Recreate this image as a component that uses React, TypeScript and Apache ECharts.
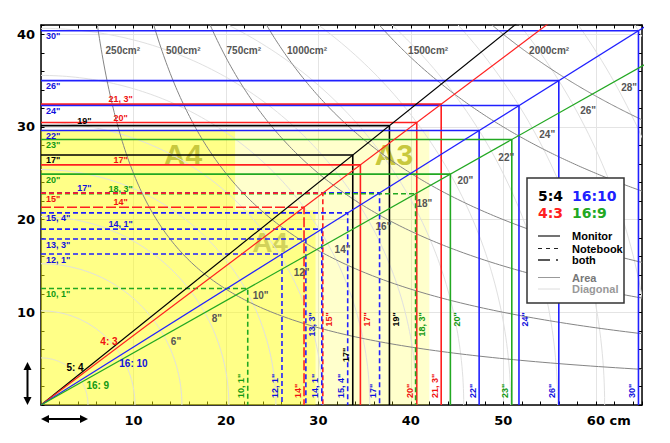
import { useEffect, useRef } from 'react';
import * as echarts from 'echarts';

const X_MAX = 65;
const Y_MAX = 41;
const CM_PER_INCH = 2.54;

// aspect ratios
const aspectNames = ['5:4', '4:3', '16:10', '16:9'];
const aspectW = [5, 4, 16, 16];
const aspectH = [4, 3, 10, 9];
const aspectLineColors = ['#000000', '#ff2020', '#2020ff', '#22a822'];
const aspectTextColors = ['#000000', '#f01010', '#1010dd', '#129912'];
const aspectLabelText = ['5: 4', '4: 3', '16: 10', '16: 9'];
const aspectLabelPos = [[3.68, 4.1], [7.35, 6.9], [10.0, 4.53], [6.14, 2.08]];

// screens (diagonal in inch)
const screenDiagonals = [30, 26, 21.3, 24, 19, 20, 22, 23, 17, 17, 20, 17, 18.3, 15, 14, 15.4, 14.1, 13.3, 12.1, 10.1];
const screenAspects = ['16:10', '16:10', '4:3', '16:10', '5:4', '4:3', '16:10', '16:9', '5:4', '4:3', '16:9', '16:10', '16:9', '4:3', '4:3', '16:10', '16:10', '16:10', '16:10', '16:9'];
const screenKinds = ['monitor', 'monitor', 'monitor', 'monitor', 'monitor', 'monitor', 'monitor', 'monitor', 'monitor', 'monitor', 'monitor', 'notebook', 'notebook', 'notebook', 'both', 'notebook', 'notebook', 'notebook', 'notebook', 'notebook'];
// label placement on the height line (L: at axis below line, M / R: above line)
const leftLabelPlace = ['L', 'L', 'R', 'L', 'M', 'R', 'L', 'L', 'L', 'R', 'L', 'M', 'R', 'L', 'R', 'L', 'R', 'L', 'L', 'L'];
// label placement on the width line
const bottomLabelPlace = ['low', 'low', 'low', 'up', 'up', 'low', 'low', 'low', 'mid', 'up', 'up', 'low', 'up', 'up', 'low', 'low', 'low', 'up', 'low', 'low'];

// paper formats
const paperNames = ['A3', 'A4', 'A4'];
const paperW = [42, 21, 29.7];
const paperH = [29.7, 29.7, 21];
const paperLabelPos = [[38.18, 27.08], [15.36, 27.08], [24.77, 17.48]];

// area curves (cm²) and diagonal arcs (inch)
const areaValues = [250, 500, 750, 1000, 1500, 2000];
const areaLabelY = 38.2;
const diagonalArcs = [2, 4, 6, 8, 10, 12, 14, 16, 18, 20, 22, 24, 26, 28, 30];
const diagonalLabels = [6, 8, 10, 12, 14, 16, 18, 20, 22, 24, 26, 28];

const FONT = '"Liberation Sans", Arial, sans-serif';

function aIdx(name: string) {
  return aspectNames.indexOf(name);
}
function rectSize(i: number): [number, number] {
  const a = aIdx(screenAspects[i]);
  const d = screenDiagonals[i] * CM_PER_INCH;
  const hyp = Math.hypot(aspectW[a], aspectH[a]);
  return [(d * aspectW[a]) / hyp, (d * aspectH[a]) / hyp];
}
function fmtInch(d: number) {
  return String(d).replace('.', ', ') + '"';
}
function dashOf(kind: string): any {
  if (kind === 'notebook') return [5, 3];
  if (kind === 'both') return [10, 3];
  return 'solid';
}

export default function App() {
  const ref = useRef<HTMLDivElement>(null);
  useEffect(() => {
    if (!ref.current) return;
    const chart = echarts.init(ref.current, undefined, { renderer: 'svg' });

    const tickAxis = (pos: string, max: number, labels: boolean, dim: 'x' | 'y') => ({
      type: 'value',
      min: 0,
      max,
      interval: 2,
      position: pos,
      axisLine: { show: true, onZero: false, lineStyle: { color: '#000', width: 1.5 } },
      axisTick: { show: true, inside: true, length: 3.5, lineStyle: { color: '#000', width: 1 } },
      splitLine: { show: false },
      axisLabel: labels
        ? {
            show: true,
            margin: dim === 'x' ? 9 : 6,
            color: '#000',
            fontFamily: 'DejaVu Sans',
            fontWeight: 'bold',
            fontSize: 13,
            formatter: (v: number) => {
              const r = Math.round(v / 10) * 10;
              if (Math.abs(v - r) > 1e-6 || r === 0 || v > max - 0.5) return '';
              if (dim === 'x' && r === 60) return '{p|}60 cm';
              return String(r);
            },
            rich: { p: { width: 26, fontSize: 13 } },
          }
        : { show: false },
    });
    const gridAxis = (pos: string, max: number) => ({
      type: 'value',
      min: 0,
      max,
      interval: 10,
      position: pos,
      axisLine: { show: false, onZero: false },
      axisTick: { show: false },
      axisLabel: { show: false },
      splitLine: { show: true, lineStyle: { color: '#e4e4e4', width: 1 } },
    });

    const series: any[] = [];

    // paper areas
    series.push({
      type: 'custom',
      z: 1,
      silent: true,
      clip: true,
      data: [[0, 0]],
      renderItem: (_p: any, api: any) => {
        const a3 = 0, pt = 1, ls = 2;
        const union = [
          [0, 0], [paperW[ls], 0], [paperW[ls], paperH[ls]], [paperW[pt], paperH[ls]],
          [paperW[pt], paperH[pt]], [0, paperH[pt]],
        ];
        const rest = [
          [paperW[ls], 0], [paperW[a3], 0], [paperW[a3], paperH[a3]], [0, paperH[a3]],
          [0, paperH[pt]], [paperW[pt], paperH[pt]], [paperW[pt], paperH[ls]], [paperW[ls], paperH[ls]],
        ];
        return {
          type: 'group',
          children: [
            { type: 'polygon', shape: { points: rest.map((p) => api.coord(p)) }, style: { fill: 'rgba(255,255,0,0.2)' } },
            { type: 'polygon', shape: { points: union.map((p) => api.coord(p)) }, style: { fill: 'rgba(255,255,0,0.47)' } },
          ],
        };
      },
    });

    // paper labels
    series.push({
      type: 'custom',
      z: 1,
      silent: true,
      clip: false,
      data: paperLabelPos.map((p) => [p[0], p[1]]),
      renderItem: (p: any, api: any) => {
        const c = api.coord([api.value(0), api.value(1)]);
        return {
          type: 'text',
          x: c[0],
          y: c[1],
          style: {
            text: paperNames[p.dataIndex],
            fill: p.dataIndex === 2 ? '#d2d25a' : '#c8c83e',
            fontSize: p.dataIndex === 2 ? 28 : 30,
            fontWeight: 'bold',
            fontFamily: FONT,
            align: 'center',
            verticalAlign: 'middle',
          },
        };
      },
    });

    // diagonal arcs
    series.push({
      type: 'custom',
      z: 2,
      silent: true,
      clip: true,
      data: diagonalArcs.map((d) => [0, 0, d]),
      renderItem: (_p: any, api: any) => {
        const r = api.value(2) * CM_PER_INCH;
        const pts = [];
        for (let i = 0; i <= 120; i++) {
          const a = (i / 120) * (Math.PI / 2);
          pts.push(api.coord([r * Math.cos(a), r * Math.sin(a)]));
        }
        return { type: 'polyline', shape: { points: pts }, style: { stroke: '#e0e0e0', lineWidth: 1, fill: null } };
      },
    });

    // area hyperbolas
    series.push({
      type: 'custom',
      z: 2,
      silent: true,
      clip: true,
      data: areaValues.map((a) => [0, 0, a]),
      renderItem: (_p: any, api: any) => {
        const A = api.value(2);
        const x0 = A / (Y_MAX + 1);
        const pts = [];
        for (let i = 0; i <= 160; i++) {
          const x = x0 * Math.pow((X_MAX + 1) / x0, i / 160);
          pts.push(api.coord([x, A / x]));
        }
        return { type: 'polyline', shape: { points: pts }, style: { stroke: '#858585', lineWidth: 1, fill: null } };
      },
    });

    // screen rectangles
    screenDiagonals.forEach((_d, i) => {
      const [w, h] = rectSize(i);
      const a = aIdx(screenAspects[i]);
      series.push({
        type: 'line',
        z: 3,
        silent: true,
        symbol: 'none',
        data: [[0, h], [w, h], [w, 0]],
        lineStyle: { color: aspectLineColors[a], width: 1.6, type: dashOf(screenKinds[i]) },
      });
    });

    // aspect diagonals
    aspectNames.forEach((_n, a) => {
      series.push({
        type: 'line',
        z: 4,
        silent: true,
        symbol: 'none',
        data: [[0, 0], [X_MAX + 5, ((X_MAX + 5) * aspectH[a]) / aspectW[a]]],
        lineStyle: { color: aspectLineColors[a], width: 1.2 },
      });
    });

    // screen labels
    series.push({
      type: 'custom',
      z: 6,
      silent: true,
      clip: false,
      data: screenDiagonals.map((_d, i) => rectSize(i)),
      renderItem: (p: any, api: any) => {
        const i = p.dataIndex;
        const w = api.value(0);
        const h = api.value(1);
        const color = aspectTextColors[aIdx(screenAspects[i])];
        const text = fmtInch(screenDiagonals[i]);
        const base = { text, fill: color, fontSize: 9, lineHeight: 9, fontWeight: 'bold', fontFamily: FONT };
        const hp = api.coord([0, h]);
        const lp = leftLabelPlace[i];
        let left: any;
        if (lp === 'L') {
          left = { type: 'text', x: hp[0] + 5, y: hp[1] + 1, style: { ...base, align: 'left', verticalAlign: 'top' } };
        } else {
          const xc = api.coord([lp === 'M' ? 4.7 : 8.6, h]);
          left = { type: 'text', x: xc[0], y: hp[1] - 0.5, style: { ...base, align: 'center', verticalAlign: 'bottom' } };
        }
        const bp = bottomLabelPlace[i];
        const wx = api.coord([w, 0])[0];
        let bottom: any;
        if (bp === 'low') {
          bottom = { type: 'text', x: wx - 6.5, y: api.coord([w, 0])[1] - 7, rotation: Math.PI / 2, style: { ...base, align: 'left', verticalAlign: 'middle' } };
        } else if (bp === 'up') {
          bottom = { type: 'text', x: wx + 6.5, y: api.coord([w, 10])[1], rotation: Math.PI / 2, style: { ...base, align: 'right', verticalAlign: 'middle' } };
        } else {
          bottom = { type: 'text', x: wx - 6.5, y: api.coord([w, 5.4])[1], rotation: Math.PI / 2, style: { ...base, align: 'center', verticalAlign: 'middle' } };
        }
        return { type: 'group', children: [left, bottom] };
      },
    });

    // aspect labels
    series.push({
      type: 'custom',
      z: 6,
      silent: true,
      clip: false,
      data: aspectLabelPos.map((p) => [p[0], p[1]]),
      renderItem: (p: any, api: any) => {
        const c = api.coord([api.value(0), api.value(1)]);
        return {
          type: 'text',
          x: c[0],
          y: c[1],
          style: {
            text: aspectLabelText[p.dataIndex],
            fill: aspectTextColors[p.dataIndex],
            fontSize: 10,
            fontWeight: 'bold',
            fontFamily: FONT,
            align: 'center',
            verticalAlign: 'middle',
          },
        };
      },
    });

    // diagonal labels (placed next to the 16:9 line)
    series.push({
      type: 'custom',
      z: 6,
      silent: true,
      clip: false,
      data: diagonalLabels.map((d) => {
        const r = d * CM_PER_INCH;
        const hyp = Math.hypot(16, 9);
        return [(r * 16) / hyp, (r * 9) / hyp, d];
      }),
      renderItem: (_p: any, api: any) => {
        const c = api.coord([api.value(0), api.value(1)]);
        return {
          type: 'text',
          x: c[0] + 7,
          y: c[1] + 6,
          style: { text: api.value(2) + '"', fill: '#555', fontSize: 10, fontWeight: 'bold', fontFamily: FONT, align: 'left', verticalAlign: 'middle' },
        };
      },
    });

    // area labels
    series.push({
      type: 'custom',
      z: 6,
      silent: true,
      clip: false,
      data: areaValues.map((a) => [a / areaLabelY, areaLabelY, a]),
      renderItem: (_p: any, api: any) => {
        const c = api.coord([api.value(0), api.value(1)]);
        return {
          type: 'text',
          x: c[0] + 4,
          y: c[1],
          style: { text: api.value(2) + 'cm²', fill: '#555', fontSize: 10, fontWeight: 'bold', fontFamily: FONT, align: 'left', verticalAlign: 'middle' },
        };
      },
    });

    const Z = 100;
    const legendX = 527, legendY = 178;
    const legendEntries = [
      { name: 'Monitor', y: 236, stroke: '#444', dash: null, width: 1.5, color: '#000' },
      { name: 'Notebook', y: 248.5, stroke: '#222', dash: [4, 4], width: 1.2, color: '#000' },
      { name: 'both', y: 260, stroke: '#222', dash: [12, 6, 2, 6], width: 1.5, color: '#000' },
      { name: 'Area', y: 277.5, stroke: '#999', dash: null, width: 1, color: '#777' },
      { name: 'Diagonal', y: 289, stroke: '#dcdcdc', dash: null, width: 1, color: '#999' },
    ];
    const graphic: any[] = [
      { type: 'rect', z: Z, shape: { x: legendX, y: legendY, width: 97, height: 125 }, style: { fill: '#fff', stroke: '#333', lineWidth: 1.5 } },
      { type: 'text', z: Z, x: 538, y: 195.5, style: { text: aspectNames[0], fill: aspectLineColors[0], fontSize: 14, fontWeight: 'bold', fontFamily: 'DejaVu Sans', verticalAlign: 'middle' } },
      { type: 'text', z: Z, x: 572, y: 195.5, style: { text: aspectNames[2], fill: aspectLineColors[2], fontSize: 14, fontWeight: 'bold', fontFamily: 'DejaVu Sans', verticalAlign: 'middle' } },
      { type: 'text', z: Z, x: 538, y: 212.5, style: { text: aspectNames[1], fill: aspectLineColors[1], fontSize: 14, fontWeight: 'bold', fontFamily: 'DejaVu Sans', verticalAlign: 'middle' } },
      { type: 'text', z: Z, x: 572, y: 212.5, style: { text: aspectNames[3], fill: aspectLineColors[3], fontSize: 14, fontWeight: 'bold', fontFamily: 'DejaVu Sans', verticalAlign: 'middle' } },
      // axis arrows
      { type: 'line', z: Z, shape: { x1: 27.5, y1: 368, x2: 27.5, y2: 399 }, style: { stroke: '#000', lineWidth: 2 } },
      { type: 'polygon', z: Z, shape: { points: [[27.5, 362], [23.5, 370], [31.5, 370]] }, style: { fill: '#000' } },
      { type: 'polygon', z: Z, shape: { points: [[27.5, 405], [23.5, 397], [31.5, 397]] }, style: { fill: '#000' } },
      { type: 'line', z: Z, shape: { x1: 47, y1: 419, x2: 82, y2: 419 }, style: { stroke: '#000', lineWidth: 2 } },
      { type: 'polygon', z: Z, shape: { points: [[41, 419], [49, 415], [49, 423]] }, style: { fill: '#000' } },
      { type: 'polygon', z: Z, shape: { points: [[88, 419], [80, 415], [80, 423]] }, style: { fill: '#000' } },
    ];
    legendEntries.forEach((e) => {
      graphic.push({
        type: 'line', z: Z,
        shape: { x1: 538, y1: e.y, x2: 560, y2: e.y },
        style: { stroke: e.stroke, lineWidth: e.width, lineDash: e.dash || undefined },
      });
      graphic.push({
        type: 'text', z: Z, x: 572, y: e.y,
        style: { text: e.name, fill: e.color, fontSize: 11, fontWeight: 'bold', fontFamily: FONT, verticalAlign: 'middle' },
      });
    });

    chart.setOption({
      animation: false,
      backgroundColor: '#fff',
      grid: { left: 41, right: 28, top: 25, bottom: 38, containLabel: false, outerBoundsMode: 'none' },
      xAxis: [tickAxis('bottom', X_MAX, true, 'x'), tickAxis('top', X_MAX, false, 'x'), gridAxis('bottom', X_MAX)],
      yAxis: [tickAxis('left', Y_MAX, true, 'y'), tickAxis('right', Y_MAX, false, 'y'), gridAxis('left', Y_MAX)],
      series,
      graphic,
    });
    return () => chart.dispose();
  }, []);
  return <div ref={ref} style={{ position: 'fixed', left: 0, top: 0, width: 670, height: 443 }} />;
}
